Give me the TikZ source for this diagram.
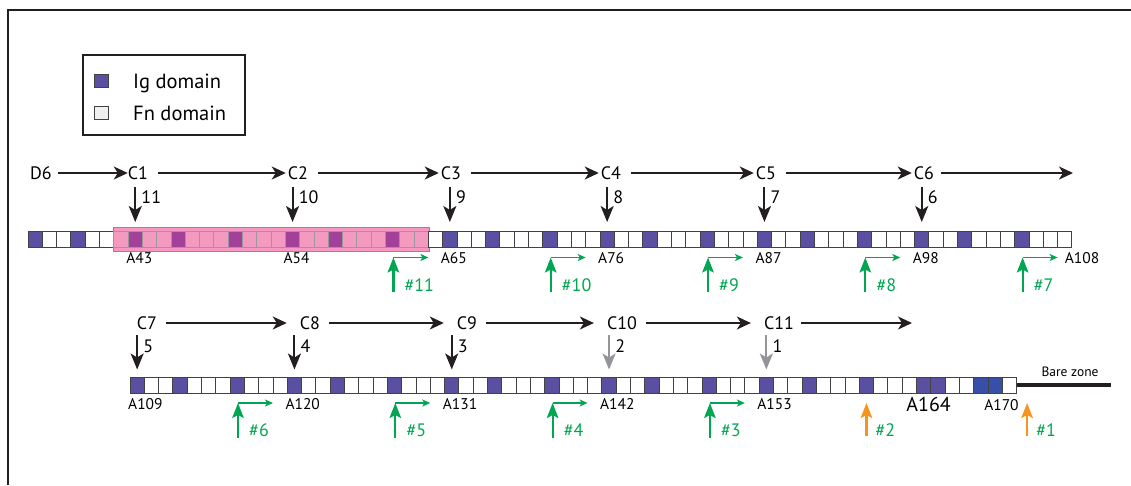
\documentclass[tikz,border=0pt]{standalone}
\usepackage{fontspec}
\setmainfont{PT Sans}
\usepackage{xcolor}
\usetikzlibrary{arrows.meta, positioning, fit, backgrounds}

\definecolor{ink}{HTML}{231F20}
\definecolor{igblue}{HTML}{5A50A2}
\definecolor{deepblue}{HTML}{3650A8}
\definecolor{pinklt}{HTML}{F49AC1}
\definecolor{pinkdk}{HTML}{A3409A}
\definecolor{promgreen}{HTML}{00A651}
\definecolor{siteorange}{HTML}{F7941D}
\definecolor{faded}{HTML}{939598}

\begin{document}
\begin{tikzpicture}[
    x=1pt, y=-1pt,
    dom/.style={rectangle, draw=ink!85, line width=0.9pt, minimum width=14.3pt, minimum height=16pt, inner sep=0pt, outer sep=0pt},
    ig/.style={dom, fill=igblue},
    fn/.style={dom, fill=white},
    pl/.style={dom, draw=black!40, fill=pinklt},
    pd/.style={dom, draw=black!40, fill=pinkdk},
    bd/.style={dom, fill=deepblue},
    zone/.style={draw=black!45, line width=0.8pt, fill=pinklt, inner xsep=0.6pt, inner ysep=4pt},
    clab/.style={font=\fontsize{18}{20}\selectfont, inner sep=0pt},
    nlab/.style={font=\fontsize{18}{20}\selectfont, inner sep=0pt, anchor=west},
    alab/.style={font=\fontsize{15.5}{18}\selectfont, inner sep=0pt, anchor=west},
    plab/.style={font=\fontsize{18}{20}\selectfont, text=promgreen, inner sep=0pt, anchor=west},
    legtext/.style={font=\fontsize{20.5}{23}\selectfont, inner sep=0pt, anchor=base west},
    harrow/.style={-{Stealth[length=14pt,width=13pt,inset=4pt]}, line width=1.6pt, ink},
    varrow/.style={-{Stealth[length=16pt,width=13pt,inset=4pt]}, line width=2pt, ink},
    upstem/.style={-{Stealth[length=15pt,width=11.5pt,inset=3pt]}, line width=2.2pt, promgreen},
    kick/.style={-{Stealth[length=8pt,width=7pt,inset=2pt]}, line width=1.3pt, promgreen},
    frame/.style={line width=2pt, ink}
]
    \useasboundingbox (0,0) rectangle (1131,485);
    \draw[frame] (7.5,485) -- (7.5,10) -- (1131,10);

    % Legend
    \node[draw=ink, line width=1.5pt, minimum width=162pt, minimum height=80pt] (legend) at (164,95) {};
    \node[ig, minimum width=14pt, minimum height=13pt] (swig) at (101,80.5) {};
    \node[fn, fill=black!6, minimum width=14pt, minimum height=13pt] (swfn) at (101,112.5) {};
    \node[legtext] (tig) at (133,88) {Ig domain};
    \node[legtext] (tfn) at (133,120) {Fn domain};

    % Row 1: A36 ... A108
    \foreach \k [count=\a from 36] in {ig,fn,fn,ig,fn,fn,pl,pd,pl,pl,pd,pl,pl,pl,pd,pl,pl,pl,pd,pl,pl,pd,pl,pl,pl,pd,pl,pl,
        fn,ig,fn,fn,ig,fn,fn,fn,ig,fn,fn,fn,ig,fn,fn,ig,fn,fn,fn,ig,fn,fn,fn,ig,fn,fn,ig,fn,fn,fn,ig,fn,fn,fn,ig,fn,fn,ig,fn,fn,fn,ig,fn,fn,fn}
        \node[\k] (a\a) at ({35.15+14.3*(\a-36)},239.5) {};

    % C-zone box behind the pink domains
    \begin{scope}[on background layer]
        \node[zone, fit=(a42)(a63)] (czone) {};
    \end{scope}

    % Row 2: A109 ... A170
    \foreach \k [count=\a from 109] in {ig,fn,fn,ig,fn,fn,fn,ig,fn,fn,fn,ig,fn,fn,ig,fn,fn,fn,ig,fn,fn,fn,ig,fn,fn,ig,fn,fn,fn,ig,fn,fn,fn,
        ig,fn,fn,ig,fn,fn,fn,ig,fn,fn,fn,ig,fn,fn,ig,fn,fn,fn,ig,fn,fn,fn,ig,ig,fn,fn,bd,bd,fn}
        \node[\k] (a\a) at ({137.15+14.3*(\a-109)},385) {};

    % Bare zone
    \coordinate (bzend) at (1111,385);
    \draw[line width=4pt, ink] (a170.east) -- (bzend);
    \node[font=\fontsize{13.5}{16}\selectfont, inner sep=0pt] (bz) at (1070,372) {Bare zone};

    % Chain, first row
    \node[clab] (d6) at (41,173) {D6};
    \node[clab] (c1) at (138,173) {C1};
    \node[clab] (c2) at (298,173) {C2};
    \node[clab] (c3) at (451,173) {C3};
    \node[clab] (c4) at (611,173) {C4};
    \node[clab] (c5) at (766,173) {C5};
    \node[clab] (c6) at (924,173) {C6};
    \coordinate (c6end) at (1073,173);
    \draw[harrow, shorten <=6pt] (d6) -- (c1);
    \foreach \p/\q in {c1/c2, c2/c3, c3/c4, c4/c5, c5/c6}
        \draw[harrow, shorten <=10pt, shorten >=2pt] (\p) -- (\q);
    \draw[harrow, shorten <=7pt] (c6) -- (c6end);

    % Chain, second row
    \node[clab] (c7) at (147,323) {C7};
    \node[clab] (c8) at (310,323) {C8};
    \node[clab] (c9) at (467,323) {C9};
    \node[clab] (c10) at (622,323) {C10};
    \node[clab] (c11) at (779,323) {C11};
    \coordinate (c11end) at (912,323);
    \foreach \p/\q in {c7/c8, c8/c9, c9/c10, c10/c11}
        \draw[harrow, shorten <=9pt, shorten >=13pt] (\p) -- (\q);
    \draw[harrow, shorten <=7pt] (c11) -- (c11end);

    % Down arrows
    \foreach \c/\sq/\num in {c1/a43/11, c2/a54/10, c3/a65/9, c4/a76/8, c5/a87/7, c6/a98/6} {
        \draw[varrow, shorten <=7.5pt, shorten >=9.5pt] (\c.south -| \sq.north) -- (\sq.north);
        \node[nlab] (n\num) at ([xshift=6pt,yshift=34.5pt]\sq.north) {\num};
    }
    \foreach \c/\sq/\num/\col in {c7/a109/5/ink, c8/a120/4/ink, c9/a131/3/ink, c10/a142/2/faded, c11/a153/1/faded} {
        \draw[varrow, \col, shorten <=5.5pt, shorten >=7.5pt] (\c.south -| \sq.north) -- (\sq.north);
        \node[nlab] (n\num) at ([xshift=6pt,yshift=30.5pt]\sq.north) {\num};
    }

    % Domain labels
    \foreach \sq/\txt in {a43/A43, a54/A54, a65/A65, a76/A76, a87/A87, a98/A98, a109/A109, a120/A120, a131/A131, a142/A142, a153/A153}
        \node[alab] (l\txt) at ([xshift=-2pt,yshift=-11pt]\sq.south west) {\txt};
    \node[alab] (lA108) at ([xshift=7pt,yshift=-11pt]a108.south west) {A108};
    \node[font=\fontsize{20}{22}\selectfont, inner sep=0pt] (lA164) at ([xshift=5pt,yshift=-11pt]a164.south) {A164};
    \node[font=\fontsize{15.5}{18}\selectfont, inner sep=0pt] (lA170) at ([xshift=-8pt,yshift=-12pt]a170.south) {A170};

    % Green start sites
    \foreach \sq/\num in {a63/11, a74/10, a85/9, a96/8, a107/7, a118/6, a129/5, a140/4, a151/3} {
        \coordinate (tip\num) at ([yshift=-10pt]\sq.south east);
        \coordinate (bend\num) at ([xshift=-35pt]tip\num);
        \coordinate (foot\num) at ([xshift=-35pt,yshift=-34.5pt]tip\num);
        \draw[kick] (bend\num) -- (tip\num);
        \draw[upstem] (foot\num) -- (bend\num);
        \node[plab] (site\num) at ([xshift=11pt,yshift=-27.5pt]bend\num) {\#\num};
    }

    % Orange sites
    \coordinate (ora2) at ([yshift=-10pt]a160.south);
    \coordinate (ora1) at ([xshift=10.5pt,yshift=-10pt]a170.south east);
    \foreach \s/\num in {ora2/2, ora1/1} {
        \draw[upstem, siteorange] ([yshift=-33pt]\s) -- (\s);
        \node[plab] (site\num) at ([xshift=9pt,yshift=-27.5pt]\s) {\#\num};
    }
\end{tikzpicture}
\end{document}
